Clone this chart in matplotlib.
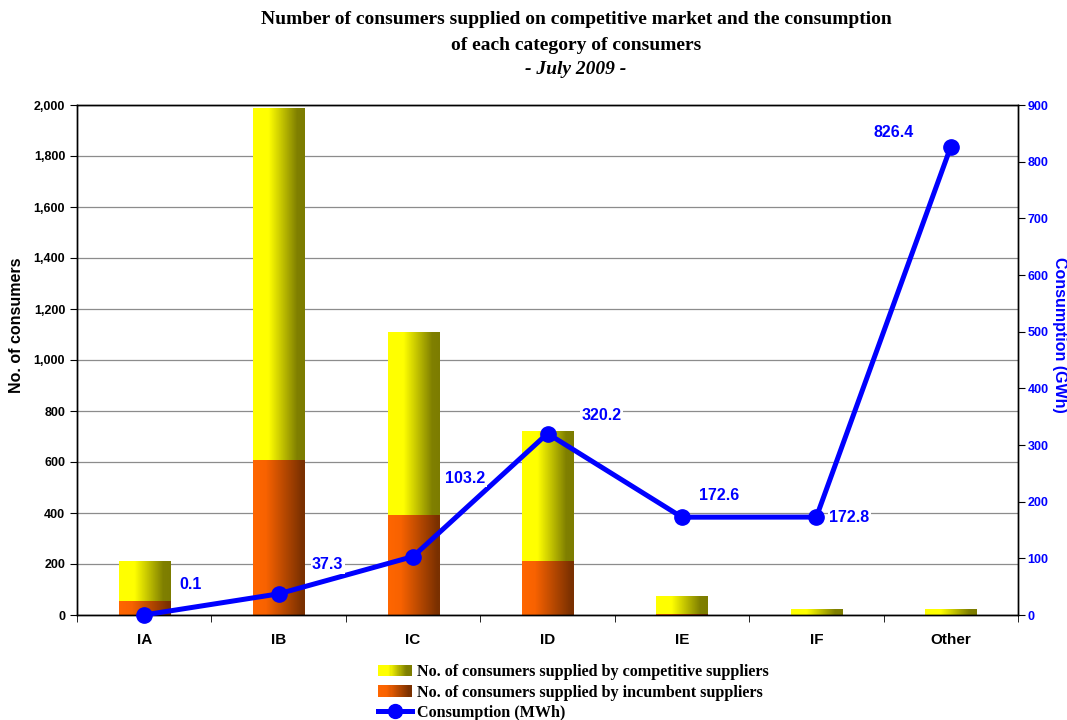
import numpy as np
import matplotlib
matplotlib.use("Agg")
import matplotlib.pyplot as plt
from matplotlib.colors import LinearSegmentedColormap
from matplotlib.legend_handler import HandlerBase
from matplotlib.patches import Rectangle
from matplotlib.lines import Line2D
from matplotlib.ticker import FuncFormatter

plt.rcParams['font.family'] = ['Liberation Sans', 'DejaVu Sans']

# data
categories = ["IA", "IB", "IC", "ID", "IE", "IF", "Other"]
incumbent = [53, 607, 392, 210, 4, 0, 0]
competitive = [153, 1377, 715, 508, 67, 20, 20]
consumption = [0.1, 37.3, 103.2, 320.2, 172.6, 172.8, 826.4]

# label offsets in pixels (dx, dy up) relative to each point
label_offsets = [(46, 30), (49, 29), (52, 78), (54, 18), (37, 22), (33, 0), (-57, 14)]

blue = "#0000FF"
yellow_cmap = LinearSegmentedColormap.from_list(
    "yel", [(0, "#FFFF00"), (0.3, "#FFFF00"), (0.85, "#808000"), (1, "#7C7C00")])
orange_cmap = LinearSegmentedColormap.from_list(
    "org", [(0, "#FF6600"), (0.25, "#F86200"), (0.95, "#7A3000"), (1, "#7A3000")])
grad = np.linspace(0, 1, 256).reshape(1, -1)


class GradHandler(HandlerBase):
    def __init__(self, cmap):
        super().__init__()
        self.cmap = cmap

    def create_artists(self, legend, orig_handle, xdescent, ydescent,
                       width, height, fontsize, trans):
        n = 30
        arts = []
        for i in range(n):
            r = Rectangle((-xdescent + i * width / n, -ydescent), width / n + 0.3, height,
                          facecolor=self.cmap(i / (n - 1)), edgecolor='none', transform=trans)
            arts.append(r)
        return arts


fig = plt.figure(figsize=(10.67, 7.2), dpi=100)
ax = fig.add_axes([77 / 1067, 1 - 615 / 720, 941 / 1067, 510 / 720])

w = 0.38
x = np.arange(len(categories))
for i in x:
    if incumbent[i] > 0:
        ax.imshow(grad, cmap=orange_cmap, aspect='auto', zorder=2,
                  extent=[i - w / 2, i + w / 2, 0, incumbent[i]])
    ax.imshow(grad, cmap=yellow_cmap, aspect='auto', zorder=2,
              extent=[i - w / 2, i + w / 2, incumbent[i], incumbent[i] + competitive[i]])

ax.set_xlim(-0.5, len(categories) - 0.5)
ax.set_ylim(0, 2000)
ax.set_yticks(range(0, 2001, 200))
ax.yaxis.set_major_formatter(FuncFormatter(lambda v, p: f"{int(v):,}"))
ax.yaxis.grid(True, color='#8c8c8c', lw=0.9)
ax.set_axisbelow(True)
ax.set_xticks(x)
ax.set_xticklabels(categories, fontsize=11, fontweight='bold')
ax.set_xticks(np.arange(-0.5, len(categories), 1), minor=True)
ax.tick_params(axis='x', which='major', length=0, pad=13)
ax.tick_params(axis='x', which='minor', length=5, direction='out')
ax.tick_params(axis='y', length=5, direction='out', labelsize=9)
for lbl in ax.get_yticklabels():
    lbl.set_fontweight('bold')
ax.set_ylabel("No. of consumers", fontsize=11.5, fontweight='bold', va='center', ha='center')
ax.yaxis.set_label_coords(-60 / 941, (615 - 325) / 510)

ax2 = ax.twinx()
ax2.plot(x, consumption, color=blue, lw=3.6, marker='o', ms=11, zorder=3, clip_on=False)
ax2.set_ylim(0, 900)
ax2.set_yticks(range(0, 901, 100))
ax2.set_yticklabels([str(v) for v in range(0, 901, 100)], fontsize=9, fontweight='bold', color=blue)
ax2.tick_params(axis='y', length=5, direction='out', pad=2)
ax2.set_ylabel("Consumption (GWh)", fontsize=11.5, fontweight='bold', color=blue,
               rotation=-90, va='center', ha='center')
ax2.yaxis.set_label_coords((1059 - 77) / 941, (615 - 335) / 510)

for i, v in enumerate(consumption):
    dx, dy = label_offsets[i]
    ax2.annotate(f"{v}", (i, v), xytext=(dx * 0.72, dy * 0.72), textcoords='offset points',
                 ha='center', va='center', color=blue, fontsize=11.5, fontweight='bold',
                 bbox=dict(fc='white', ec='none', pad=1), zorder=5)

for a in (ax, ax2):
    for s in a.spines.values():
        s.set_color('black')
        s.set_linewidth(1)

# title
tfont = dict(family=['Liberation Serif', 'DejaVu Serif'], fontweight='bold', fontsize=14,
             ha='center', va='center')
fig.text(576 / 1067, 1 - 20 / 720,
         "Number of consumers supplied on competitive market and the consumption", **tfont)
fig.text(576 / 1067, 1 - 45 / 720, "of each category of consumers", **tfont)
fig.text(576 / 1067, 1 - 70 / 720, "- July 2009 -", style='italic', **tfont)

# legend
h_comp = Rectangle((0, 0), 1, 1)
h_inc = Rectangle((0, 0), 1, 1)
h_line = Line2D([], [], color=blue, lw=3.6, marker='o', ms=10)
fig.legend([h_comp, h_inc, h_line],
           ["No. of consumers supplied by competitive suppliers",
            "No. of consumers supplied by incumbent suppliers",
            "Consumption (MWh)"],
           handler_map={h_comp: GradHandler(yellow_cmap), h_inc: GradHandler(orange_cmap)},
           loc='upper left', bbox_to_anchor=(378 / 1067, 1 - 664 / 720), frameon=False,
           prop=dict(family=['Liberation Serif', 'DejaVu Serif'], weight='bold', size=11.6),
           handlelength=2.1, handletextpad=0.3, labelspacing=0.28, borderpad=0, borderaxespad=0)

fig.savefig("out.png", dpi=100)
